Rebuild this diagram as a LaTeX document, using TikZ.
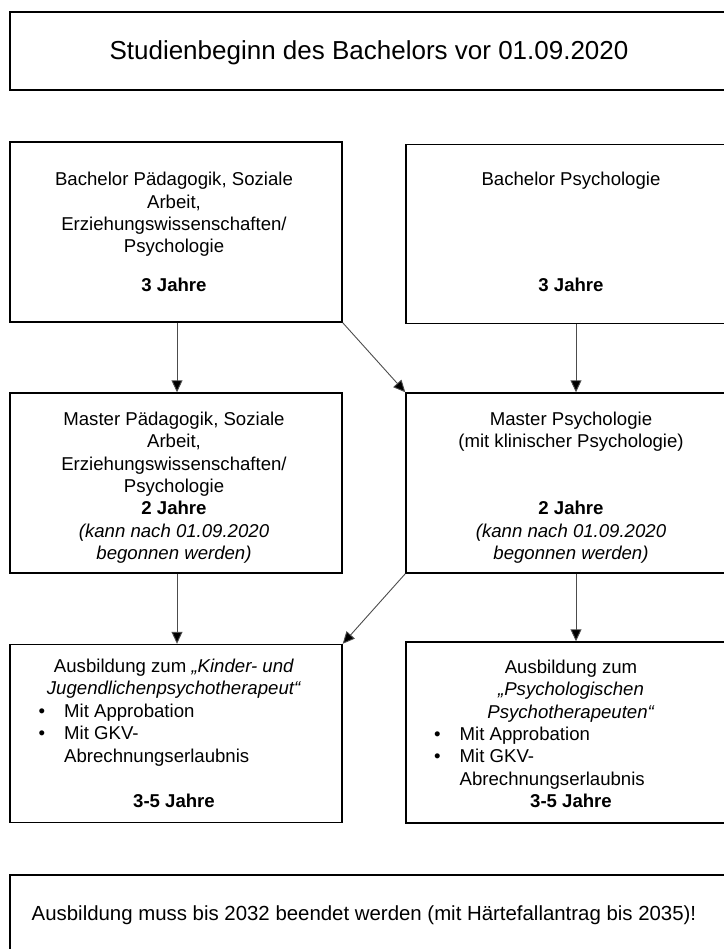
\documentclass[tikz,border=0pt]{standalone}
\usepackage{fontspec}
\setmainfont{Liberation Sans}
\usetikzlibrary{arrows.meta}
\newcommand{\fl}{\rule{0pt}{14bp}}
\newcommand{\bul}{\makebox[25.5bp][l]{•}}
\begin{document}
\begin{tikzpicture}[x=1bp,y=-1bp,
  box/.style={draw=black, line width=1.4bp, inner sep=0pt, rectangle},
  txt/.style={inner sep=0pt, align=center, font=\fontsize{18.6bp}{22.4bp}\selectfont},
  lst/.style={inner sep=0pt, align=left, font=\fontsize{18.6bp}{22.4bp}\selectfont},
  arr/.style={draw=black!70, line width=0.9bp, -{Triangle[length=12bp,width=11bp,fill=black]}},
]
\useasboundingbox (0,0) rectangle (724,949);
\clip (0,0) rectangle (724,949);

% boxes
\node[box, minimum width=730bp, minimum height=78bp] (title) at (375,51) {};
\node[box, minimum width=332bp, minimum height=180bp] (bl1) at (176,232) {};
\node[box, minimum width=334bp, minimum height=179bp] (br1) at (573,234) {};
\node[box, minimum width=332bp, minimum height=180bp] (ml) at (176,483) {};
\node[box, minimum width=334bp, minimum height=180bp] (mr) at (573,483) {};
\node[box, minimum width=332bp, minimum height=178bp] (kjp) at (176,733.5) {};
\node[box, minimum width=334bp, minimum height=181bp] (pp) at (573,732.5) {};
\node[box, minimum width=730bp, minimum height=95bp] (bot) at (375,922.5) {};

% texts
\node[anchor=base, inner sep=0pt, font=\fontsize{26bp}{30bp}\selectfont] (titlet) at (369,59) {Studienbeginn des Bachelors vor 01.09.2020};

\node[txt, anchor=north] (bl1t) at (174,171.5) {\fl Bachelor Pädagogik, Soziale\\Arbeit,\\Erziehungswissenschaften/\\Psychologie\\[16bp]\textbf{3 Jahre}};
\node[txt, anchor=north] (br1t) at (571,171.5) {\fl Bachelor Psychologie\\[83bp]\textbf{3 Jahre}};

\node[txt, anchor=north] (mlt) at (174,411) {\fl Master Pädagogik, Soziale\\Arbeit,\\Erziehungswissenschaften/\\Psychologie\\\textbf{2 Jahre}\\\textit{(kann nach 01.09.2020}\\\textit{begonnen werden)}};
\node[txt, anchor=north] (mrt) at (571,411) {\fl Master Psychologie\\(mit klinischer Psychologie)\\[44.8bp]\textbf{2 Jahre}\\\textit{(kann nach 01.09.2020}\\\textit{begonnen werden)}};

\node[txt, anchor=north] (kjpt) at (174,658) {\fl Ausbildung zum \textit{„Kinder- und}\\\textit{Jugendlichenpsychotherapeut“}};
\node[lst, anchor=north west] (kjpl) at (38.5,703) {\fl\bul Mit Approbation\\\bul Mit GKV-\\\hspace*{25.5bp}Abrechnungserlaubnis};
\node[txt, anchor=base] (kjpj) at (174,807) {\textbf{3-5 Jahre}};

\node[txt, anchor=north] (ppt) at (571,659) {\fl Ausbildung zum\\\textit{„Psychologischen}\\\textit{Psychotherapeuten“}};
\node[lst, anchor=north west] (ppl) at (434,726) {\fl\bul Mit Approbation\\\bul Mit GKV-\\\hspace*{25.5bp}Abrechnungserlaubnis};
\node[txt, anchor=base] (ppj) at (571,807) {\textbf{3-5 Jahre}};

\node[anchor=base, inner sep=0pt, font=\fontsize{20.4bp}{24bp}\selectfont] (bott) at (364,920) {Ausbildung muss bis 2032 beendet werden (mit Härtefallantrag bis 2035)!};

% connectors
\draw[arr] ([xshift=1bp]bl1.south) -- ([xshift=1bp]ml.north);
\draw[arr] (bl1.south east) -- (mr.north west);
\draw[arr] ([xshift=3bp]br1.south) -- ([xshift=3bp]mr.north);
\draw[arr] ([xshift=1bp]ml.south) -- ([xshift=1bp]kjp.north);
\draw[arr] (mr.south west) -- (kjp.north east);
\draw[arr] ([xshift=3bp]mr.south) -- ([xshift=3bp]pp.north);
\end{tikzpicture}
\end{document}
